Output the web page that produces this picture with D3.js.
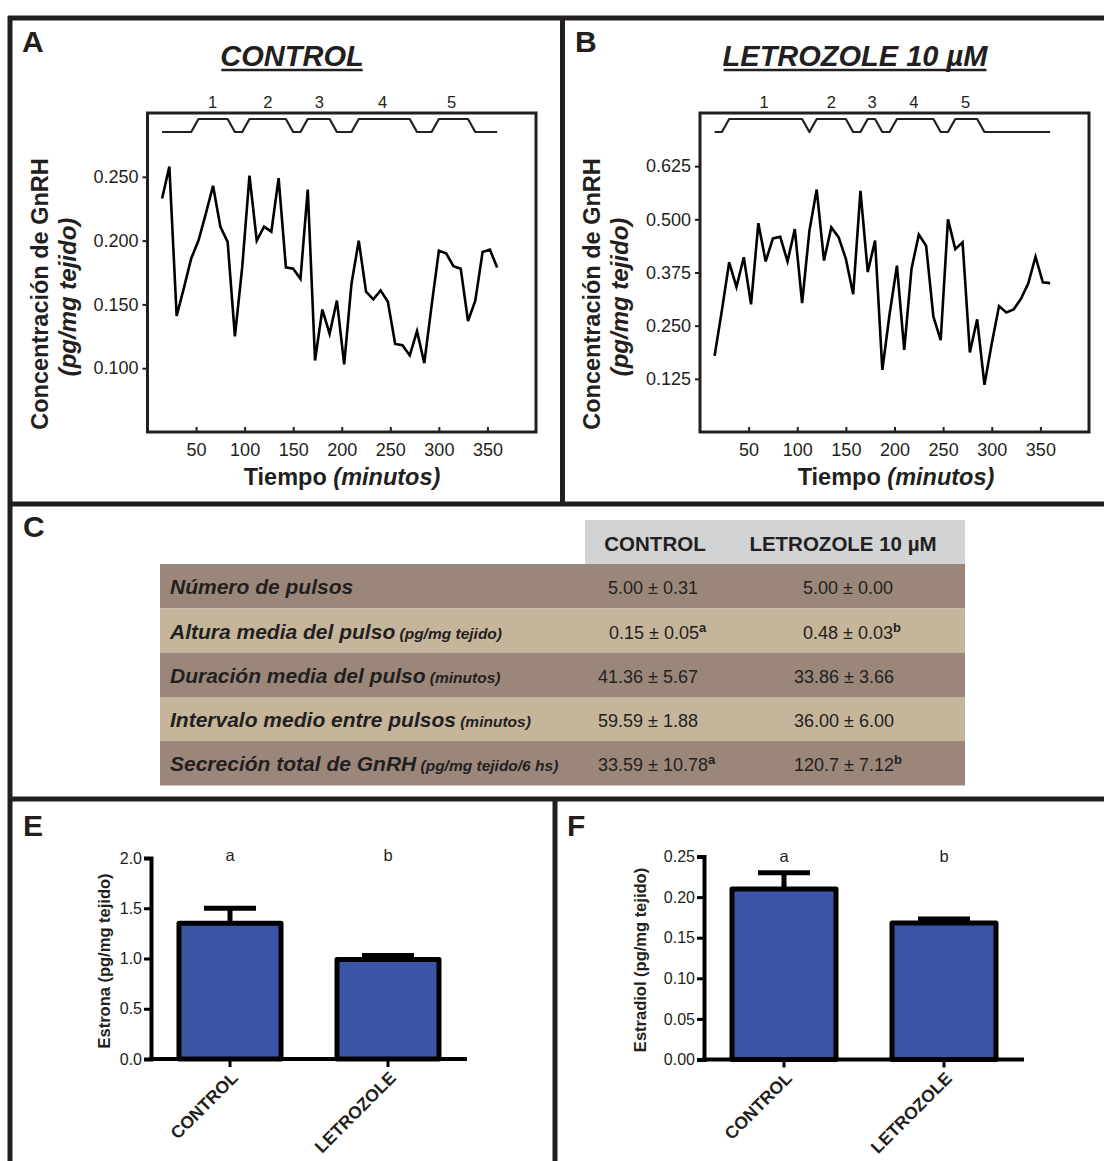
<!DOCTYPE html>
<html><head><meta charset="utf-8">
<script src="https://cdn.jsdelivr.net/npm/d3@7"></script>
<style>
body{margin:0;background:#fff;}
svg{display:block;}
</style></head>
<body>
<svg id="fig" width="1104" height="1161"></svg>
<script>
// ---------------- DATA ----------------
const sampleTimes = [15,22.5,30,37.5,45,52.5,60,67.5,75,82.5,90,97.5,105,112.5,120,127.5,135,142.5,150,157.5,165,172.5,180,187.5,195,202.5,210,217.5,225,232.5,240,247.5,255,262.5,270,277.5,285,292.5,300,307.5,315,322.5,330,337.5,345,352.5,360];
const controlGnRH = [0.233,0.258,0.141,0.163,0.186,0.200,0.221,0.243,0.211,0.199,0.125,0.179,0.251,0.200,0.211,0.207,0.249,0.179,0.178,0.170,0.240,0.106,0.146,0.127,0.153,0.103,0.166,0.200,0.160,0.154,0.161,0.152,0.119,0.118,0.110,0.129,0.104,0.149,0.192,0.190,0.180,0.178,0.137,0.153,0.191,0.193,0.179];
const letrozoleGnRH = [0.179,0.286,0.399,0.341,0.411,0.300,0.491,0.401,0.455,0.459,0.401,0.477,0.303,0.473,0.570,0.403,0.481,0.458,0.407,0.324,0.567,0.376,0.450,0.146,0.278,0.391,0.193,0.384,0.464,0.438,0.271,0.216,0.500,0.430,0.446,0.187,0.265,0.111,0.208,0.296,0.281,0.288,0.313,0.349,0.412,0.352,0.350];
// pulse profile: [time, state 0=baseline 1=pulse]
const pulseControl = [[15,0],[45,0],[52.5,1],[82.5,1],[90,0],[97.5,0],[105,1],[142.5,1],[150,0],[157.5,0],[165,1],[187.5,1],[195,0],[210,0],[217.5,1],[270,1],[277.5,0],[292.5,0],[300,1],[330,1],[337.5,0],[360,0]];
const pulseLetrozole = [[15,0],[22.5,0],[30,1],[105,1],[112.5,0],[120,1],[150,1],[157.5,0],[165,0],[172.5,1],[180,1],[187.5,0],[195,0],[202.5,1],[240,1],[247.5,0],[255,0],[262.5,1],[285,1],[292.5,0],[360,0]];
const pulseLabelTimesControl = [67,124,177,242,313];
const pulseLabelTimesLetrozole = [66,135,177,220,273];
const pulseLabels = ["1","2","3","4","5"];
const timeTicks = [50,100,150,200,250,300,350];
const controlTicks = [0.100,0.150,0.200,0.250];
const letrozoleTicks = [0.125,0.250,0.375,0.500,0.625];

const tableHeader = ["CONTROL","LETROZOLE 10 µM"];
const tableRows = ["Número de pulsos","Altura media del pulso","Duración media del pulso","Intervalo medio entre pulsos","Secreción total de GnRH"];
const tableUnits = ["","(pg/mg tejido)","(minutos)","(minutos)","(pg/mg tejido/6 hs)"];
const controlVals = ["5.00 ± 0.31","0.15 ± 0.05","41.36 ± 5.67","59.59 ± 1.88","33.59 ± 10.78"];
const controlSup = ["","a","","","a"];
const letrozoleVals = ["5.00 ± 0.00","0.48 ± 0.03","33.86 ± 3.66","36.00 ± 6.00","120.7 ± 7.12"];
const letrozoleSup = ["","b","","","b"];

const barCategories = ["CONTROL","LETROZOLE"];
const estronaMean = [1.35,0.99];
const estronaSEM = [0.15,0.04];
const estradiolMean = [0.21,0.168];
const estradiolSEM = [0.02,0.005];
const sigLetters = ["a","b"];
const estronaTicks = [0.0,0.5,1.0,1.5,2.0];
const estradiolTicks = [0.00,0.05,0.10,0.15,0.20,0.25];

// ---------------- DRAWING ----------------
const FONT = '"Liberation Sans", Arial, Helvetica, sans-serif';
const INK = '#231f20';
const svg = d3.select('#fig').attr('font-family', FONT);
svg.append('rect').attr('width',1104).attr('height',1161).attr('fill','#fff');

// panel frame lines
const frame = svg.append('g').attr('stroke', INK).attr('stroke-width', 5);
[[8,18,1104,18],[10,16,10,1161],[562.5,18,562.5,504],[8,504,1104,504],[8,799,1104,799],[555,799,555,1161]]
 .forEach(l => frame.append('line').attr('x1',l[0]).attr('y1',l[1]).attr('x2',l[2]).attr('y2',l[3]));

// panel letters
[["A",22,52],["B",575,52],["C",23,537],["E",23,836],["F",567,836]].forEach(p=>{
  svg.append('text').attr('x',p[1]).attr('y',p[2]).attr('font-size',30).attr('font-weight','bold').attr('fill',INK).text(p[0]);
});

function linePanel(cfg){
  const g = svg.append('g');
  const x = d3.scaleLinear().domain([0,400]).range(cfg.xr);
  const y = d3.scaleLinear().domain(cfg.yd).range([432,113]);
  const py = d3.scaleLinear().domain([0,1]).range([132,119]);

  // title
  const t = g.append('text').attr('x',cfg.titleX).attr('y',66).attr('text-anchor','middle')
    .attr('font-size',29).attr('font-weight','bold').attr('font-style','italic').attr('fill',INK).text(cfg.title);
  const tw = t.node().getComputedTextLength();
  g.append('line').attr('x1',cfg.titleX-tw/2+1).attr('x2',cfg.titleX+tw/2-1).attr('y1',70).attr('y2',70)
    .attr('stroke',INK).attr('stroke-width',2.5);

  // y axis
  const ya = d3.axisLeft(y).tickValues(cfg.yticks).tickFormat(d3.format('.3f')).tickSize(5).tickPadding(4);
  const yg = g.append('g').attr('transform',`translate(${x(0)},0)`).call(ya);
  yg.select('.domain').remove();
  yg.selectAll('line').attr('stroke',INK).attr('stroke-width',2);
  yg.selectAll('text').attr('font-size',18).attr('font-family',FONT).attr('fill',INK);

  // x axis (inward ticks)
  const xa = d3.axisBottom(x).tickValues(timeTicks).tickSizeInner(-5).tickSizeOuter(0).tickPadding(11);
  const xg = g.append('g').attr('transform',`translate(0,${y(cfg.yd[0])})`).call(xa);
  xg.select('.domain').remove();
  xg.selectAll('line').attr('stroke',INK).attr('stroke-width',2);
  xg.selectAll('text').attr('font-size',18).attr('font-family',FONT).attr('fill',INK);

  // plot box
  g.append('rect').attr('x',x(0)).attr('y',y(cfg.yd[1])).attr('width',x(400)-x(0)).attr('height',y(cfg.yd[0])-y(cfg.yd[1]))
    .attr('fill','none').attr('stroke',INK).attr('stroke-width',3);

  // pulse profile
  g.append('path').datum(cfg.pulse)
    .attr('d', d3.line().x(d=>x(d[0])).y(d=>py(d[1])))
    .attr('fill','none').attr('stroke',INK).attr('stroke-width',2.2).attr('stroke-linejoin','round');
  g.selectAll('.pl').data(cfg.pulseLabelTimes).enter().append('text')
    .attr('x',d=>x(d)).attr('y',108).attr('text-anchor','middle').attr('font-size',16.5).attr('fill',INK)
    .text((d,i)=>pulseLabels[i]);

  // data line
  g.append('path').datum(sampleTimes.map((tm,i)=>[tm,cfg.values[i]]))
    .attr('d', d3.line().x(d=>x(d[0])).y(d=>y(d[1])))
    .attr('fill','none').attr('stroke','#000').attr('stroke-width',2.6).attr('stroke-linejoin','miter');

  // axis titles
  g.append('text').attr('transform',`translate(${cfg.lab1x},294) rotate(-90)`).attr('text-anchor','middle')
    .attr('font-size',23.5).attr('font-weight','bold').attr('fill',INK).text('Concentración de GnRH');
  g.append('text').attr('transform',`translate(${cfg.lab2x},297) rotate(-90)`).attr('text-anchor','middle')
    .attr('font-size',24).attr('font-weight','bold').attr('font-style','italic').attr('fill',INK).text('(pg/mg tejido)');
  const xt = g.append('text').attr('x',cfg.xTitleX).attr('y',485).attr('text-anchor','middle')
    .attr('font-size',23.5).attr('font-weight','bold').attr('fill',INK);
  xt.append('tspan').text('Tiempo ');
  xt.append('tspan').attr('font-style','italic').text('(minutos)');
}

linePanel({xr:[147.5,536], yd:[0.05,0.30], yticks:controlTicks, values:controlGnRH, pulse:pulseControl,
  pulseLabelTimes:pulseLabelTimesControl, title:'CONTROL', titleX:292, lab1x:48, lab2x:76, xTitleX:342});
linePanel({xr:[700,1089], yd:[0,0.75], yticks:letrozoleTicks, values:letrozoleGnRH, pulse:pulseLetrozole,
  pulseLabelTimes:pulseLabelTimesLetrozole, title:'LETROZOLE 10 µM', titleX:855, lab1x:600, lab2x:628, xTitleX:896});

// ---------------- TABLE (panel C) ----------------
const tg = svg.append('g');
const rowEdges = [564,608.5,652.5,697,741,785.5];
const rowFill = ['#9b877a','#c5b59b'];
tg.append('rect').attr('x',585).attr('y',520).attr('width',380).attr('height',44).attr('fill','#d1d3d4');
const colCenters = [655,843];
tableHeader.forEach((h,i)=>{
  tg.append('text').attr('x',colCenters[i]).attr('y',551).attr('text-anchor','middle').attr('font-size',20.5)
    .attr('font-weight','bold').attr('fill',INK).text(h);
});
const colStart = [[608,803],[609,803],[598,794],[598,794],[598,794]];
tableRows.forEach((r,i)=>{
  const top = rowEdges[i], h = rowEdges[i+1]-rowEdges[i];
  tg.append('rect').attr('x',160).attr('y',top).attr('width',805).attr('height',h).attr('fill',rowFill[i%2]);
  const base = top + h/2 + 8;
  const lt = tg.append('text').attr('x',170).attr('y',base).attr('font-weight','bold').attr('font-style','italic').attr('fill',INK);
  lt.append('tspan').attr('font-size',21).text(r);
  if (tableUnits[i]) lt.append('tspan').attr('font-size',15.5).text(' ' + tableUnits[i]);
  [[controlVals,controlSup],[letrozoleVals,letrozoleSup]].forEach((col,j)=>{
    const vt = tg.append('text').attr('x',colStart[i][j]).attr('y',base).attr('font-size',18).attr('fill',INK);
    vt.append('tspan').text(col[0][i]);
    if (col[1][i]) vt.append('tspan').attr('dy',-7).attr('font-size',13).attr('font-weight','bold').text(col[1][i]);
  });
});

// ---------------- BAR PANELS (E, F) ----------------
function barPanel(cfg){
  const g = svg.append('g');
  const x = d3.scalePoint().domain(barCategories).range(cfg.xr).padding(0.5);
  const y = d3.scaleLinear().domain(cfg.yd).range(cfg.yr);
  const y0 = y(0);

  // error bars (behind bars)
  cfg.mean.forEach((m,i)=>{
    const cx = x(barCategories[i]);
    g.append('line').attr('x1',cx).attr('x2',cx).attr('y1',y(m)).attr('y2',y(m+cfg.sem[i])).attr('stroke','#000').attr('stroke-width',5);
    g.append('line').attr('x1',cx-26).attr('x2',cx+26).attr('y1',y(m+cfg.sem[i])).attr('y2',y(m+cfg.sem[i])).attr('stroke','#000').attr('stroke-width',5);
  });
  // bars
  g.selectAll('.bar').data(cfg.mean).enter().append('rect')
    .attr('x',(d,i)=>x(barCategories[i])-cfg.bw/2).attr('width',cfg.bw)
    .attr('y',d=>y(d)).attr('height',d=>y0-y(d))
    .attr('fill','#3a55a5').attr('stroke','#000').attr('stroke-width',5).attr('stroke-linejoin','round');

  // y axis
  const ya = d3.axisLeft(y).tickValues(cfg.ticks).tickFormat(d3.format(cfg.fmt)).tickSize(7).tickPadding(2);
  const yg = g.append('g').attr('transform',`translate(${cfg.xr[0]},0)`).call(ya);
  yg.select('.domain').attr('stroke','#000').attr('stroke-width',4);
  yg.selectAll('.tick line').attr('stroke','#000').attr('stroke-width',3);
  yg.selectAll('text').attr('font-size',16).attr('font-family',FONT).attr('fill',INK);

  // x axis
  g.append('line').attr('x1',cfg.xr[0]-2).attr('x2',cfg.xr[1]).attr('y1',y0).attr('y2',y0).attr('stroke','#000').attr('stroke-width',4);
  barCategories.forEach(c=>{
    g.append('line').attr('x1',x(c)).attr('x2',x(c)).attr('y1',y0).attr('y2',y0+8).attr('stroke','#000').attr('stroke-width',3);
    g.append('text').attr('transform',`translate(${x(c)+9},${y0+20}) rotate(-45)`).attr('text-anchor','end')
      .attr('font-size',17.5).attr('font-weight','bold').attr('fill',INK).text(c);
  });
  // significance letters
  sigLetters.forEach((s,i)=>{
    g.append('text').attr('x',x(barCategories[i])).attr('y',cfg.sigY).attr('text-anchor','middle').attr('font-size',16.5).attr('fill',INK).text(s);
  });
  // y title
  g.append('text').attr('transform',`translate(${cfg.labX},${cfg.labY}) rotate(-90)`).attr('text-anchor','middle')
    .attr('font-size',16.5).attr('font-weight','bold').attr('fill',INK).text(cfg.label);
}

barPanel({xr:[151,467], yd:[0,2], yr:[1059,858], mean:estronaMean, sem:estronaSEM, ticks:estronaTicks, fmt:'.1f',
  bw:102, sigY:861, labX:110, labY:961, label:'Estrona (pg/mg tejido)'});
barPanel({xr:[704,1024], yd:[0,0.25], yr:[1059.5,856.5], mean:estradiolMean, sem:estradiolSEM, ticks:estradiolTicks, fmt:'.2f',
  bw:104, sigY:862, labX:646, labY:960, label:'Estradiol (pg/mg tejido)'});
</script>
</body></html>
